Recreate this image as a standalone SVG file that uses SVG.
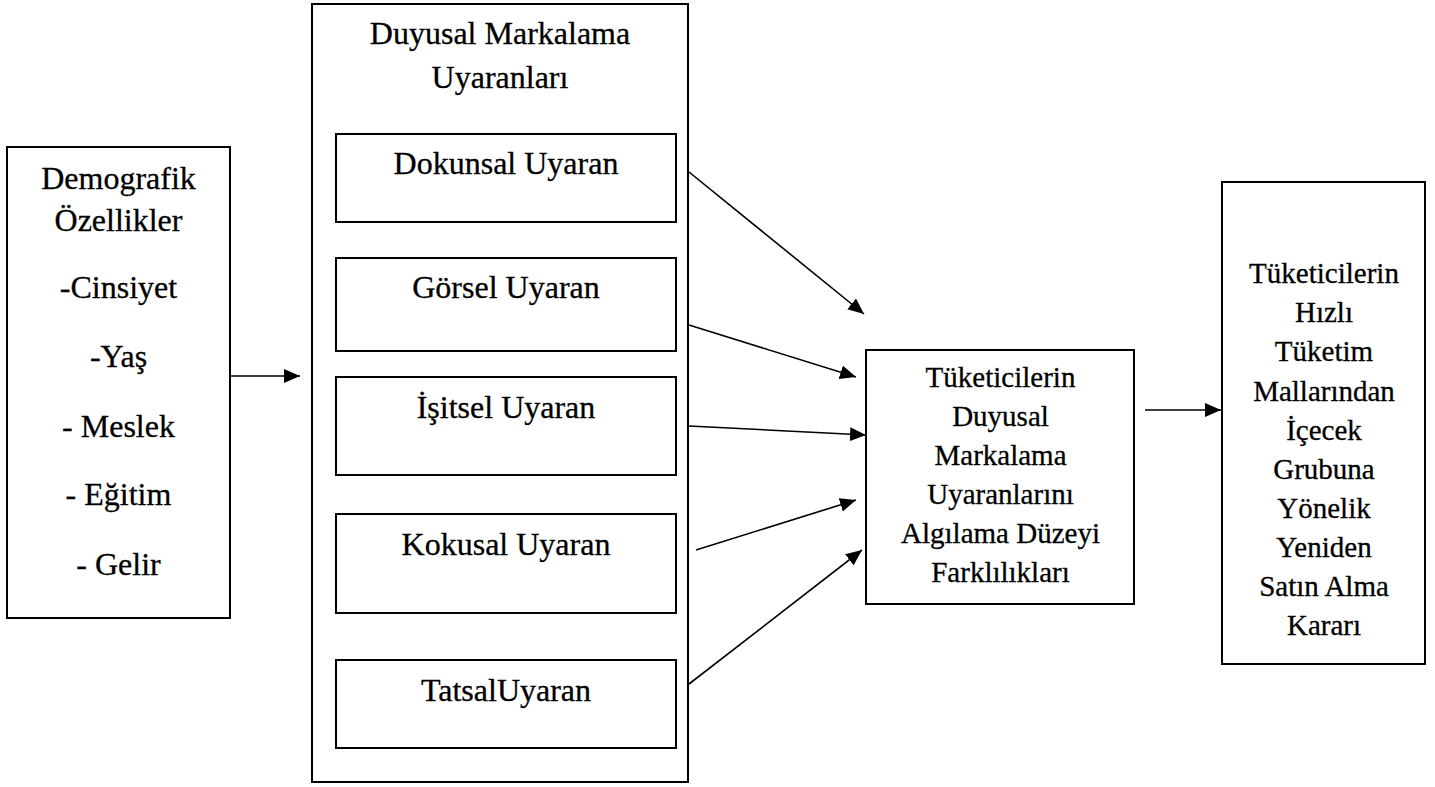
<svg xmlns="http://www.w3.org/2000/svg" width="1435" height="787" viewBox="0 0 1435 787">
  <style>
    .box { fill: #ffffff; stroke: #000000; stroke-width: 2; }
    .lbl { font-family: "Liberation Serif", "Times New Roman", serif; font-size: 32px; fill: #000000; stroke: #000000; stroke-width: 0.3; text-anchor: middle; }
    .sm { font-size: 29px; }
    .conn { stroke: #000000; stroke-width: 1.6; fill: none; marker-end: url(#arrow); }
  </style>
  <defs>
    <marker id="arrow" markerUnits="userSpaceOnUse" markerWidth="17" markerHeight="15" refX="16" refY="7" orient="auto">
      <path d="M0,0 L16,7 L0,14 z" fill="#000000"/>
    </marker>
  </defs>
  <rect width="1435" height="787" fill="#ffffff"/>

  <!-- demographic characteristics -->
  <g id="demografik">
    <rect class="box" x="7" y="147" width="223" height="471"/>
    <text class="lbl" x="118.5" y="189">Demografik</text>
    <text class="lbl" x="118.5" y="231">Özellikler</text>
    <text class="lbl" x="118.5" y="298">-Cinsiyet</text>
    <text class="lbl" x="118.5" y="367">-Yaş</text>
    <text class="lbl" x="118.5" y="437">- Meslek</text>
    <text class="lbl" x="118.5" y="505">- Eğitim</text>
    <text class="lbl" x="118.5" y="575">- Gelir</text>
  </g>

  <!-- sensory branding stimuli container -->
  <g id="uyaranlar">
    <rect class="box" x="312" y="4" width="376" height="778"/>
    <text class="lbl" x="500" y="44">Duyusal Markalama</text>
    <text class="lbl" x="500" y="88">Uyaranları</text>
  </g>
  <g id="dokunsal">
    <rect class="box" x="336" y="134" width="340" height="88"/>
    <text class="lbl" x="506" y="174">Dokunsal Uyaran</text>
  </g>
  <g id="gorsel">
    <rect class="box" x="336" y="258" width="340" height="93"/>
    <text class="lbl" x="506" y="298">Görsel Uyaran</text>
  </g>
  <g id="isitsel">
    <rect class="box" x="336" y="377" width="340" height="98"/>
    <text class="lbl" x="506" y="418">İşitsel Uyaran</text>
  </g>
  <g id="kokusal">
    <rect class="box" x="336" y="514" width="340" height="99"/>
    <text class="lbl" x="506" y="555">Kokusal Uyaran</text>
  </g>
  <g id="tatsal">
    <rect class="box" x="336" y="660" width="340" height="88"/>
    <text class="lbl" x="506" y="701">TatsalUyaran</text>
  </g>

  <!-- perception level differences -->
  <g id="algilama">
    <rect class="box" x="866" y="350" width="268" height="254"/>
    <text class="lbl sm" x="1000.5" y="387">Tüketicilerin</text>
    <text class="lbl sm" x="1000.5" y="426">Duyusal</text>
    <text class="lbl sm" x="1000.5" y="465">Markalama</text>
    <text class="lbl sm" x="1000.5" y="504">Uyaranlarını</text>
    <text class="lbl sm" x="1000.5" y="543">Algılama Düzeyi</text>
    <text class="lbl sm" x="1000.5" y="582">Farklılıkları</text>
  </g>

  <!-- repurchase decision -->
  <g id="karar">
    <rect class="box" x="1222" y="182" width="203" height="482"/>
    <text class="lbl sm" x="1324" y="283">Tüketicilerin</text>
    <text class="lbl sm" x="1324" y="322">Hızlı</text>
    <text class="lbl sm" x="1324" y="361">Tüketim</text>
    <text class="lbl sm" x="1324" y="401">Mallarından</text>
    <text class="lbl sm" x="1324" y="440">İçecek</text>
    <text class="lbl sm" x="1324" y="479">Grubuna</text>
    <text class="lbl sm" x="1324" y="518">Yönelik</text>
    <text class="lbl sm" x="1324" y="557">Yeniden</text>
    <text class="lbl sm" x="1324" y="596">Satın Alma</text>
    <text class="lbl sm" x="1324" y="635">Kararı</text>
  </g>

  <!-- connectors -->
  <g id="connectors">
    <line class="conn" x1="231" y1="376" x2="300" y2="376"/>
    <line class="conn" x1="689" y1="172" x2="864" y2="314"/>
    <line class="conn" x1="689" y1="325" x2="856" y2="377"/>
    <line class="conn" x1="689" y1="426" x2="866" y2="435"/>
    <line class="conn" x1="696" y1="550" x2="856" y2="500"/>
    <line class="conn" x1="689" y1="684" x2="862" y2="550"/>
    <line class="conn" x1="1145" y1="410" x2="1221" y2="410"/>
  </g>
</svg>
